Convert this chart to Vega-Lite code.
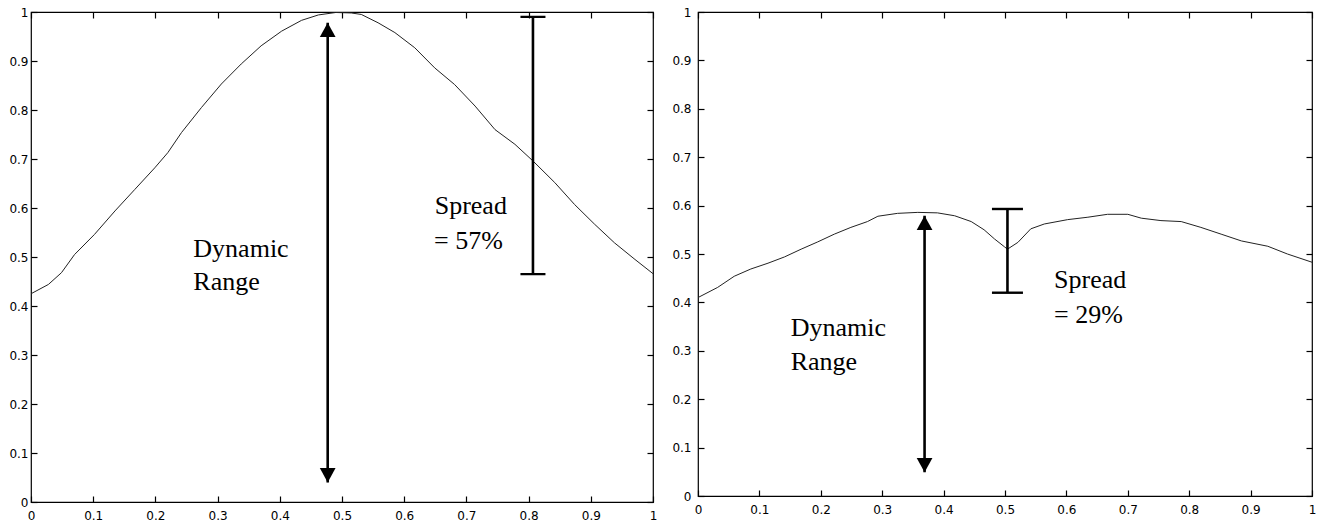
{
  "$schema": "https://vega.github.io/schema/vega-lite/v6.json",
  "padding": {"left": 8, "top": 5, "right": 5, "bottom": 0},
  "spacing": 13,
  "background": "white",
  "config": {
    "view": {"stroke": "black", "strokeWidth": 1.2},
    "axis": {"grid": false, "domain": false, "tickSize": -6, "tickColor": "black", "tickWidth": 1.2,
             "labelFont": "DejaVu Sans", "labelFontSize": 12, "labelColor": "black", "title": null,
             "labelFlush": false, "labelOverlap": false}
  },
  "datasets": {
    "curveL": [
      {"x": 0, "y": 0.425}, {"x": 0.028, "y": 0.444}, {"x": 0.049, "y": 0.468}, {"x": 0.07, "y": 0.505},
      {"x": 0.102, "y": 0.546}, {"x": 0.135, "y": 0.594}, {"x": 0.167, "y": 0.638}, {"x": 0.199, "y": 0.682},
      {"x": 0.22, "y": 0.713}, {"x": 0.242, "y": 0.754}, {"x": 0.274, "y": 0.805}, {"x": 0.306, "y": 0.853},
      {"x": 0.338, "y": 0.894}, {"x": 0.37, "y": 0.931}, {"x": 0.403, "y": 0.961}, {"x": 0.435, "y": 0.983},
      {"x": 0.462, "y": 0.994}, {"x": 0.49, "y": 0.999}, {"x": 0.515, "y": 0.998}, {"x": 0.531, "y": 0.995},
      {"x": 0.558, "y": 0.978}, {"x": 0.585, "y": 0.958}, {"x": 0.617, "y": 0.927}, {"x": 0.649, "y": 0.886},
      {"x": 0.681, "y": 0.852}, {"x": 0.714, "y": 0.808}, {"x": 0.746, "y": 0.76}, {"x": 0.778, "y": 0.73},
      {"x": 0.807, "y": 0.696}, {"x": 0.842, "y": 0.652}, {"x": 0.874, "y": 0.607}, {"x": 0.906, "y": 0.567},
      {"x": 0.938, "y": 0.529}, {"x": 0.971, "y": 0.495}, {"x": 1, "y": 0.466}
    ],
    "curveR": [
      {"x": 0, "y": 0.41}, {"x": 0.032, "y": 0.431}, {"x": 0.059, "y": 0.454}, {"x": 0.086, "y": 0.469},
      {"x": 0.114, "y": 0.481}, {"x": 0.141, "y": 0.494}, {"x": 0.168, "y": 0.51}, {"x": 0.195, "y": 0.525},
      {"x": 0.222, "y": 0.541}, {"x": 0.249, "y": 0.555}, {"x": 0.276, "y": 0.567}, {"x": 0.293, "y": 0.578},
      {"x": 0.325, "y": 0.584}, {"x": 0.358, "y": 0.586}, {"x": 0.39, "y": 0.585}, {"x": 0.418, "y": 0.579},
      {"x": 0.445, "y": 0.567}, {"x": 0.466, "y": 0.55}, {"x": 0.483, "y": 0.531}, {"x": 0.499, "y": 0.515},
      {"x": 0.504, "y": 0.51}, {"x": 0.521, "y": 0.524}, {"x": 0.542, "y": 0.552}, {"x": 0.564, "y": 0.562},
      {"x": 0.602, "y": 0.571}, {"x": 0.635, "y": 0.576}, {"x": 0.667, "y": 0.582}, {"x": 0.7, "y": 0.582},
      {"x": 0.722, "y": 0.574}, {"x": 0.754, "y": 0.569}, {"x": 0.787, "y": 0.567}, {"x": 0.819, "y": 0.555},
      {"x": 0.852, "y": 0.541}, {"x": 0.885, "y": 0.527}, {"x": 0.928, "y": 0.516}, {"x": 0.96, "y": 0.5},
      {"x": 1, "y": 0.483}
    ],
    "textL": [
      {"x": 0.261, "y": 0.5, "t": "Dynamic"}, {"x": 0.261, "y": 0.433, "t": "Range"},
      {"x": 0.649, "y": 0.588, "t": "Spread"}, {"x": 0.648, "y": 0.516, "t": "= 57%"}
    ],
    "textR": [
      {"x": 0.151, "y": 0.33, "t": "Dynamic"}, {"x": 0.151, "y": 0.26, "t": "Range"},
      {"x": 0.58, "y": 0.429, "t": "Spread"}, {"x": 0.58, "y": 0.357, "t": "= 29%"}
    ],
    "annL": [
      {"kind": "arrow", "x": 0.477, "lo": 0.04, "hi": 0.978},
      {"kind": "spread", "x": 0.807, "lo": 0.465, "hi": 0.99}
    ],
    "annR": [
      {"kind": "arrow", "x": 0.369, "lo": 0.049, "hi": 0.579},
      {"kind": "spread", "x": 0.504, "lo": 0.42, "hi": 0.593}
    ]
  },
  "hconcat": [
    {
      "width": 622, "height": 490,
      "resolve": {"axis": {"x": "independent", "y": "independent"}},
      "layer": [
        {
          "data": {"name": "curveL"},
          "mark": {"type": "line", "stroke": "#222", "strokeWidth": 1},
          "encoding": {
            "x": {"field": "x", "type": "quantitative", "scale": {"domain": [0, 1], "nice": false},
                  "axis": {"orient": "bottom", "values": [0, 0.1, 0.2, 0.3, 0.4, 0.5, 0.6, 0.7, 0.8, 0.9, 1], "format": "~g", "labelPadding": 14}},
            "y": {"field": "y", "type": "quantitative", "scale": {"domain": [0, 1], "nice": false},
                  "axis": {"orient": "left", "values": [0, 0.1, 0.2, 0.3, 0.4, 0.5, 0.6, 0.7, 0.8, 0.9, 1], "format": "~g", "labelPadding": 9}}
          }
        },
        {
          "data": {"name": "textL"},
          "mark": {"type": "text", "font": "Liberation Serif", "fontSize": 26, "align": "left", "baseline": "alphabetic", "color": "black"},
          "encoding": {
            "x": {"field": "x", "type": "quantitative", "scale": {"domain": [0, 1], "nice": false},
                  "axis": {"orient": "top", "labels": false, "values": [0, 0.1, 0.2, 0.3, 0.4, 0.5, 0.6, 0.7, 0.8, 0.9, 1]}},
            "y": {"field": "y", "type": "quantitative", "scale": {"domain": [0, 1], "nice": false},
                  "axis": {"orient": "right", "labels": false, "values": [0, 0.1, 0.2, 0.3, 0.4, 0.5, 0.6, 0.7, 0.8, 0.9, 1]}},
            "text": {"field": "t", "type": "nominal"}
          }
        },
        {
          "data": {"name": "annL"},
          "mark": {"type": "rule", "color": "black", "strokeWidth": 2.6},
          "encoding": {
            "x": {"field": "x", "type": "quantitative", "axis": null},
            "y": {"field": "lo", "type": "quantitative", "axis": null},
            "y2": {"field": "hi"}
          }
        },
        {
          "data": {"name": "annL"},
          "transform": [{"filter": "datum.kind === 'arrow'"}],
          "mark": {"type": "point", "shape": "M0,0L-0.55,1L0.55,1Z", "filled": true, "color": "black", "opacity": 1, "size": 820},
          "encoding": {
            "x": {"field": "x", "type": "quantitative", "axis": null},
            "y": {"field": "hi", "type": "quantitative", "axis": null}
          }
        },
        {
          "data": {"name": "annL"},
          "transform": [{"filter": "datum.kind === 'arrow'"}],
          "mark": {"type": "point", "shape": "M0,0L-0.55,-1L0.55,-1Z", "filled": true, "color": "black", "opacity": 1, "size": 820},
          "encoding": {
            "x": {"field": "x", "type": "quantitative", "axis": null},
            "y": {"field": "lo", "type": "quantitative", "axis": null}
          }
        },
        {
          "data": {"name": "annL"},
          "transform": [{"filter": "datum.kind === 'spread'"}],
          "mark": {"type": "tick", "orient": "horizontal", "color": "black", "size": 25, "thickness": 2.4, "opacity": 1},
          "encoding": {
            "x": {"field": "x", "type": "quantitative", "axis": null},
            "y": {"field": "hi", "type": "quantitative", "axis": null}
          }
        },
        {
          "data": {"name": "annL"},
          "transform": [{"filter": "datum.kind === 'spread'"}],
          "mark": {"type": "tick", "orient": "horizontal", "color": "black", "size": 25, "thickness": 2.4, "opacity": 1},
          "encoding": {
            "x": {"field": "x", "type": "quantitative", "axis": null},
            "y": {"field": "lo", "type": "quantitative", "axis": null}
          }
        }
      ]
    },
    {
      "width": 614, "height": 484,
      "resolve": {"axis": {"x": "independent", "y": "independent"}},
      "layer": [
        {
          "data": {"name": "curveR"},
          "mark": {"type": "line", "stroke": "#222", "strokeWidth": 1},
          "encoding": {
            "x": {"field": "x", "type": "quantitative", "scale": {"domain": [0, 1], "nice": false},
                  "axis": {"orient": "bottom", "values": [0, 0.1, 0.2, 0.3, 0.4, 0.5, 0.6, 0.7, 0.8, 0.9, 1], "format": "~g", "labelPadding": 14}},
            "y": {"field": "y", "type": "quantitative", "scale": {"domain": [0, 1], "nice": false},
                  "axis": {"orient": "left", "values": [0, 0.1, 0.2, 0.3, 0.4, 0.5, 0.6, 0.7, 0.8, 0.9, 1], "format": "~g", "labelPadding": 13}}
          }
        },
        {
          "data": {"name": "textR"},
          "mark": {"type": "text", "font": "Liberation Serif", "fontSize": 26, "align": "left", "baseline": "alphabetic", "color": "black"},
          "encoding": {
            "x": {"field": "x", "type": "quantitative", "scale": {"domain": [0, 1], "nice": false},
                  "axis": {"orient": "top", "labels": false, "values": [0, 0.1, 0.2, 0.3, 0.4, 0.5, 0.6, 0.7, 0.8, 0.9, 1]}},
            "y": {"field": "y", "type": "quantitative", "scale": {"domain": [0, 1], "nice": false},
                  "axis": {"orient": "right", "labels": false, "values": [0, 0.1, 0.2, 0.3, 0.4, 0.5, 0.6, 0.7, 0.8, 0.9, 1]}},
            "text": {"field": "t", "type": "nominal"}
          }
        },
        {
          "data": {"name": "annR"},
          "mark": {"type": "rule", "color": "black", "strokeWidth": 2.6},
          "encoding": {
            "x": {"field": "x", "type": "quantitative", "axis": null},
            "y": {"field": "lo", "type": "quantitative", "axis": null},
            "y2": {"field": "hi"}
          }
        },
        {
          "data": {"name": "annR"},
          "transform": [{"filter": "datum.kind === 'arrow'"}],
          "mark": {"type": "point", "shape": "M0,0L-0.55,1L0.55,1Z", "filled": true, "color": "black", "opacity": 1, "size": 820},
          "encoding": {
            "x": {"field": "x", "type": "quantitative", "axis": null},
            "y": {"field": "hi", "type": "quantitative", "axis": null}
          }
        },
        {
          "data": {"name": "annR"},
          "transform": [{"filter": "datum.kind === 'arrow'"}],
          "mark": {"type": "point", "shape": "M0,0L-0.55,-1L0.55,-1Z", "filled": true, "color": "black", "opacity": 1, "size": 820},
          "encoding": {
            "x": {"field": "x", "type": "quantitative", "axis": null},
            "y": {"field": "lo", "type": "quantitative", "axis": null}
          }
        },
        {
          "data": {"name": "annR"},
          "transform": [{"filter": "datum.kind === 'spread'"}],
          "mark": {"type": "tick", "orient": "horizontal", "color": "black", "size": 31, "thickness": 2.4, "opacity": 1},
          "encoding": {
            "x": {"field": "x", "type": "quantitative", "axis": null},
            "y": {"field": "hi", "type": "quantitative", "axis": null}
          }
        },
        {
          "data": {"name": "annR"},
          "transform": [{"filter": "datum.kind === 'spread'"}],
          "mark": {"type": "tick", "orient": "horizontal", "color": "black", "size": 31, "thickness": 2.4, "opacity": 1},
          "encoding": {
            "x": {"field": "x", "type": "quantitative", "axis": null},
            "y": {"field": "lo", "type": "quantitative", "axis": null}
          }
        }
      ]
    }
  ]
}
